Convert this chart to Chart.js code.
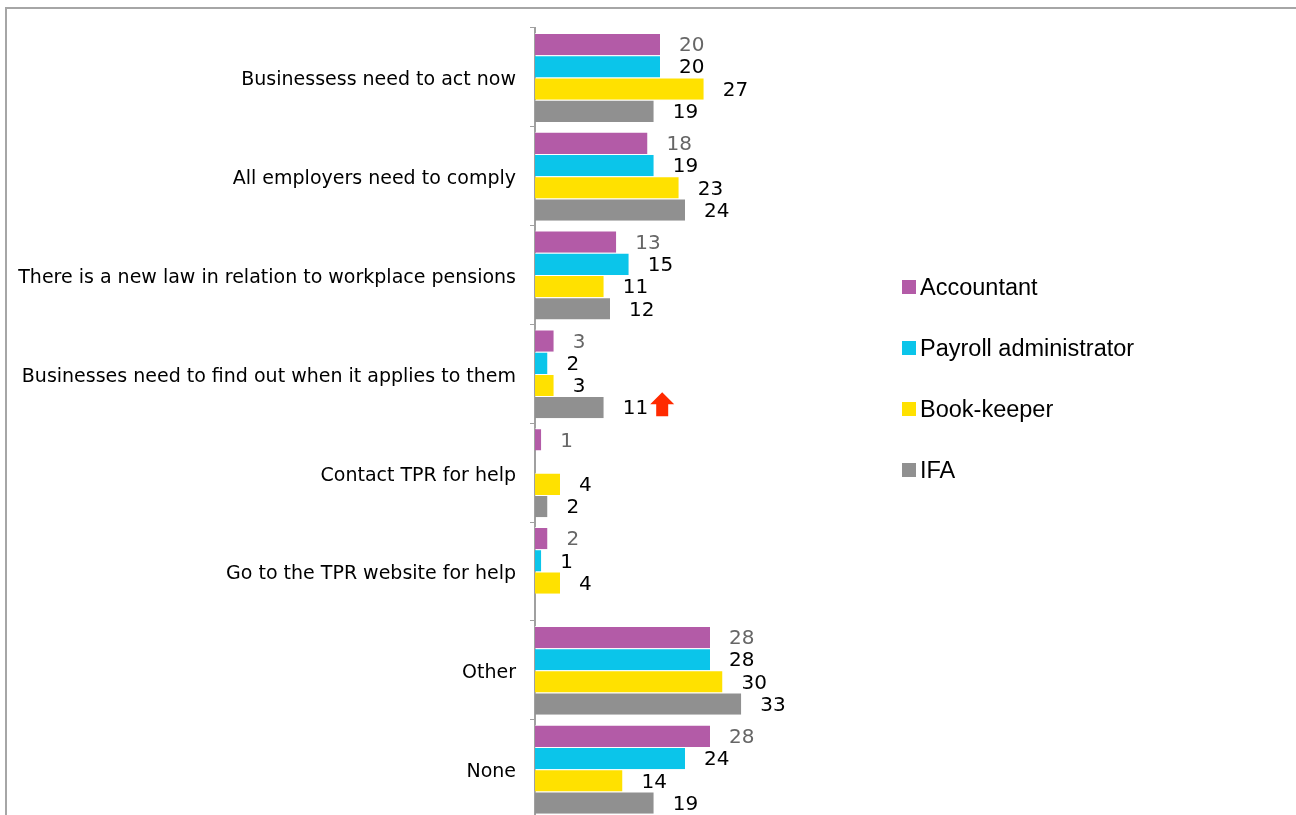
<!DOCTYPE html>
<html lang="en">
<head>
    <meta charset="UTF-8">
    <title>Key messages by adviser type</title>
    <script src="https://cdn.jsdelivr.net/npm/chart.js"></script>
    <style>
        html, body { margin: 0; padding: 0; overflow: hidden; background: #fff; }
        #frame { position: absolute; left: 5px; top: 7px; width: 1400px; height: 900px;
                 border-top: 2px solid #a6a6a6; border-left: 2px solid #a6a6a6; }
        #wrap { position: absolute; left: 0; top: 0; width: 1296px; height: 844px; }
        #legend { position: absolute; left: 902px; top: 272px; font-family: "Liberation Sans", Arial, sans-serif;
                  font-size: 23.5px; color: #000; }
        #legend div { height: 61px; line-height: 30px; white-space: nowrap; }
        #legend span { display: inline-block; width: 14px; height: 14px; margin-right: 4px; vertical-align: 1px; }
    </style>
</head>
<body>
    <div id="frame"></div>
    <div id="wrap"><canvas id="chart"></canvas></div>
    <div id="legend"></div>

    <script>
        var categories = [
            'Businessess need to act now',
            'All employers need to comply',
            'There is a new law in relation to workplace pensions',
            'Businesses need to find out when it applies to them',
            'Contact TPR for help',
            'Go to the TPR website for help',
            'Other',
            'None'
        ];
        var seriesNames = ['Accountant', 'Payroll administrator', 'Book-keeper', 'IFA'];
        var accountant = [20, 18, 13, 3, 1, 2, 28, 28];
        var payroll    = [20, 19, 15, 2, null, 1, 28, 24];
        var bookkeeper = [27, 23, 11, 3, 4, 4, 30, 14];
        var ifa        = [19, 24, 12, 11, 2, null, 33, 19];
        // [category index, series index] of values flagged with a red up arrow
        var upFlags = [[3, 3]];

        var colors = ['#b35ba7', '#0bc5ea', '#ffe100', '#909090'];
        var labelColors = ['#666666', '#000000', '#000000', '#000000'];
        var labelFont = '20px "DejaVu Sans", Tahoma, sans-serif';

        // value labels to the right of each bar, plus the red arrows
        var valueLabels = {
            id: 'valueLabels',
            afterDatasetsDraw: function(chart) {
                var ctx = chart.ctx;
                ctx.save();
                ctx.font = labelFont;
                ctx.textAlign = 'left';
                ctx.textBaseline = 'middle';
                chart.data.datasets.forEach(function(ds, di) {
                    var meta = chart.getDatasetMeta(di);
                    meta.data.forEach(function(bar, i) {
                        var v = ds.data[i];
                        if (v === null || v === undefined) return;
                        var tx = bar.x + 19;
                        ctx.fillStyle = labelColors[di];
                        ctx.fillText(String(v), tx, bar.y + 2);
                        var flagged = upFlags.some(function(f) { return f[0] === i && f[1] === di; });
                        if (flagged) {
                            var ax = tx + ctx.measureText(String(v)).width + 14;
                            var top = bar.y - 15;
                            ctx.fillStyle = '#ff2a00';
                            ctx.beginPath();
                            ctx.moveTo(ax, top);
                            ctx.lineTo(ax + 12, top + 12);
                            ctx.lineTo(ax + 6, top + 12);
                            ctx.lineTo(ax + 6, top + 24);
                            ctx.lineTo(ax - 6, top + 24);
                            ctx.lineTo(ax - 6, top + 12);
                            ctx.lineTo(ax - 12, top + 12);
                            ctx.closePath();
                            ctx.fill();
                        }
                    });
                });
                ctx.restore();
            }
        };

        var seriesData = [accountant, payroll, bookkeeper, ifa];

        new Chart(document.getElementById('chart'), {
            type: 'bar',
            data: {
                labels: categories,
                datasets: seriesNames.map(function(name, k) {
                    return {
                        label: name,
                        data: seriesData[k],
                        backgroundColor: colors[k],
                        borderColor: 'rgba(255,255,255,0.7)',
                        borderWidth: { top: 1, bottom: 0, right: 0, left: 0 },
                        categoryPercentage: 0.9,
                        barPercentage: 1.0
                    };
                })
            },
            options: {
                indexAxis: 'y',
                responsive: true,
                maintainAspectRatio: false,
                animation: false,
                layout: { padding: { top: 28, right: 136, bottom: 10, left: 0 } },
                plugins: {
                    legend: { display: false },
                    tooltip: { enabled: false }
                },
                scales: {
                    x: {
                        display: false,
                        min: 0,
                        max: 100
                    },
                    y: {
                        afterFit: function(scale) { scale.width = 535; },
                        border: { display: true, color: '#a0a0a0', width: 2 },
                        grid: {
                            offset: true,
                            drawOnChartArea: false,
                            drawTicks: true,
                            tickLength: 5,
                            color: '#a0a0a0'
                        },
                        ticks: {
                            color: '#000',
                            padding: 14,
                            labelOffset: 3,
                            font: { family: '"DejaVu Sans", Tahoma, sans-serif', size: 19 }
                        }
                    }
                }
            },
            plugins: [valueLabels]
        });

        var legendBox = document.getElementById('legend');
        seriesNames.forEach(function(name, k) {
            var row = document.createElement('div');
            var sw = document.createElement('span');
            sw.style.background = colors[k];
            row.appendChild(sw);
            row.appendChild(document.createTextNode(name));
            legendBox.appendChild(row);
        });
    </script>
</body>
</html>
